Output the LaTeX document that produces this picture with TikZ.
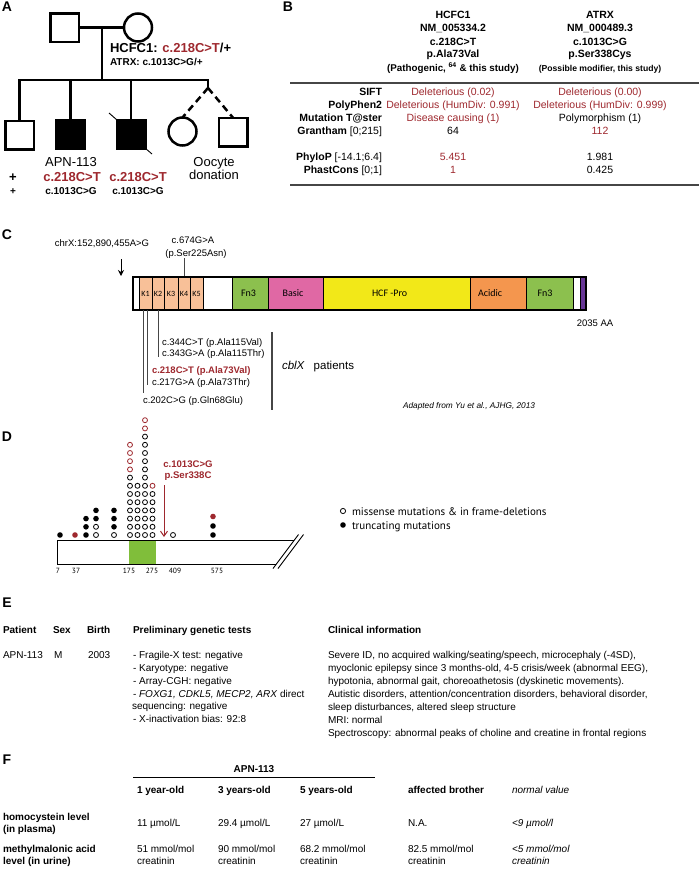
\documentclass[tikz,border=0pt]{standalone}
\usepackage{fontspec}
\setmainfont{Liberation Sans}
\newfontfamily\calfont{Carlito}
\newfontfamily\myrfont{PT Sans}
\usetikzlibrary{arrows.meta}
\definecolor{dred}{RGB}{158,40,46}
\definecolor{kpeach}{RGB}{248,192,152}
\definecolor{fngreen}{RGB}{140,192,78}
\definecolor{bpink}{RGB}{224,104,164}
\definecolor{hyellow}{RGB}{242,232,24}
\definecolor{aorange}{RGB}{244,150,78}
\definecolor{cpurple}{RGB}{104,54,150}
\definecolor{dgreen}{RGB}{128,190,58}
\definecolor{rulegray}{RGB}{70,70,70}
\definecolor{tickgray}{RGB}{70,70,70}
\newcommand{\fsz}[1]{\fontsize{#1pt}{#1pt}\selectfont}
\begin{document}
\begin{tikzpicture}[x=1pt,y=-1pt,
  every node/.style={inner sep=0pt,outer sep=0pt},
  panel/.style={font=\bfseries\fsz{14}},
  ped/.style={line width=2.5pt},
  pedd/.style={line width=2.5pt,dash pattern=on 7pt off 4.5pt},
  sqp/.style={draw,line width=2.5pt,rectangle,minimum size=28.5pt},
  affsq/.style={sqp,fill=black},
  cip/.style={draw,line width=2.5pt,circle,minimum size=28pt},
  tA/.style={anchor=base,font=\fsz{13}},
  tAb/.style={anchor=base,font=\bfseries\fsz{13}},
  tAs/.style={anchor=base,font=\bfseries\fsz{10}},
  bh/.style={anchor=base,font=\bfseries\fsz{10.5}},
  bnote/.style={anchor=base,font=\bfseries\fsz{8.6}},
  bl/.style={anchor=base east,font=\fsz{10.5}},
  bv/.style={anchor=base,font=\fsz{10.5}},
  brule/.style={line width=1.8pt,draw=rulegray},
  ct/.style={anchor=base,font=\fsz{9.5}},
  ctl/.style={anchor=base west,font=\fsz{9.5}},
  dom/.style={font=\calfont\fsz{10}},
  kdom/.style={font=\calfont\fsz{8}},
  tickln/.style={draw=tickgray,line width=0.8pt},
  dnum/.style={anchor=base,font=\myrfont\fsz{7.5}},
  dleg/.style={anchor=base west,font=\myrfont\fsz{11}},
  dopen/.style={draw=black,line width=0.8pt,fill=white},
  dopenr/.style={draw=dred,line width=0.8pt,fill=white},
  dfill/.style={fill=black},
  dfillr/.style={fill=dred},
  et/.style={anchor=base west,font=\fsz{10}},
  etb/.style={anchor=base west,font=\bfseries\fsz{10}},
  eti/.style={anchor=base west,font=\itshape\fsz{10}}
]
\useasboundingbox (0,0) rectangle (699,870);

% ================= Panel A =================
\node[panel] (lA) at (7,7) {A};
\node[sqp] (fa) at (64.5,27.5) {};
\node[cip] (mo) at (138,27.5) {};
\draw[ped] (fa.east) -- (mo.west);
\coordinate (mj) at (102,27.5);
\coordinate (sj) at (102,80);
\draw[ped] (mj) -- (sj);
\node[sqp] (c1) at (19.5,135) {};
\node[affsq] (c2) at (70.5,134.5) {};
\node[affsq] (c3) at (131,134) {};
\node[cip] (c4) at (182.5,131.5) {};
\node[sqp] (c5) at (233,132) {};
\coordinate (sr) at (208,80);
\coordinate (dj) at (208,88);
\draw[ped] (c1.north) |- (sr) -- (dj);
\draw[ped] (c2.north) -- (c2.north |- sj);
\draw[ped] (c3.north) -- (c3.north |- sj);
\draw[pedd] (dj) -- (c4.north);
\draw[pedd] (dj) -- (c5.north);
\draw[line width=0.9pt] (109,113) -- (117,120);
\draw[line width=0.9pt] (145,148) -- (152,154);

\node[tAb,anchor=base west] (hc) at (110,52.7) {HCFC1: \textcolor{dred}{c.218C>T}/+};
\node[tAs,anchor=base west] (atx) at (110,65.6) {ATRX: c.1013C>G/+};
\node[tA] (apn) at (71,166.7) {APN-113};
\node[tAb,text=dred] (m2) at (72,181.7) {c.218C>T};
\node[tAs] (a2) at (71,194.6) {c.1013C>G};
\node[tAb,text=dred] (m3) at (138,181.7) {c.218C>T};
\node[tAs] (a3) at (138,194.6) {c.1013C>G};
\node[tAb] (p1) at (13,181.7) {+};
\node[tAs] (p2) at (13,194.6) {+};
\node[tA] (oo) at (214,166.7) {Oocyte};
\node[tA] (don) at (214,179.7) {donation};

% ================= Panel B =================
\node[panel] (lB) at (288,7) {B};
\node[bh] (h1a) at (453,18.8) {HCFC1};
\node[bh] (h1b) at (453,31.8) {NM\_005334.2};
\node[bh] (h1c) at (453,45.5) {c.218C>T};
\node[bh] (h1d) at (453,57.8) {p.Ala73Val};
\node[bh,font=\bfseries\fsz{9.8}] (h1e) at (453,71.3) {(Pathogenic, \textsuperscript{64} \& this study)};
\node[bh] (h2a) at (600,18.8) {ATRX};
\node[bh] (h2b) at (600,31.8) {NM\_000489.3};
\node[bh] (h2c) at (600,45.5) {c.1013C>G};
\node[bh] (h2d) at (600,57.8) {p.Ser338Cys};
\node[bnote] (h2e) at (600,71.1) {(Possible modifier, this study)};
\draw[brule] (290,83) -- (699,83);
\draw[brule] (290,185) -- (699,185);

\node[bl] (r1) at (382,95.8) {\bfseries SIFT};
\node[bl] (r2) at (382,108.8) {\bfseries PolyPhen2};
\node[bl] (r3) at (382,121.8) {\bfseries Mutation T@ster};
\node[bl] (r4) at (382,134.8) {\textbf{Grantham} [0;215]};
\node[bl] (r5) at (382,160.8) {\textbf{PhyloP} [-14.1;6.4]};
\node[bl] (r6) at (382,173.8) {\textbf{PhastCons} [0;1]};

\node[bv,text=dred] (v11) at (453,95.8) {Deleterious (0.02)};
\node[bv,text=dred] (v12) at (453,108.8) {Deleterious (HumDiv: 0.991)};
\node[bv,text=dred] (v13) at (453,121.8) {Disease causing (1)};
\node[bv] (v14) at (453,134.8) {64};
\node[bv,text=dred] (v15) at (453,160.8) {5.451};
\node[bv,text=dred] (v16) at (453,173.8) {1};
\node[bv,text=dred] (v21) at (600,95.8) {Deleterious (0.00)};
\node[bv,text=dred] (v22) at (600,108.8) {Deleterious (HumDiv: 0.999)};
\node[bv] (v23) at (600,121.8) {Polymorphism (1)};
\node[bv,text=dred] (v24) at (600,134.8) {112};
\node[bv] (v25) at (600,160.8) {1.981};
\node[bv] (v26) at (600,173.8) {0.425};

% ================= Panel C =================
\node[panel] (lC) at (7,235) {C};
\node[ct] (chr) at (102,246.4) {chrX:152,890,455A>G};
\node[ct] (c674) at (193,243.4) {c.674G>A};
\node[ct] (c674p) at (196,256.6) {(p.Ser225Asn)};
\coordinate (arT) at (121,259);
\coordinate (arB) at (121,276);
\draw[line width=1pt,-{Stealth[length=6pt,width=6pt]}] (arT) -- (arB);
\draw[tickln] (184,258) -- (184,277);

% domains
\fill[white] (133,277) rectangle (139,310);
\foreach \a/\b in {139/152,152/164,164/178,178/190,190/203}
  \fill[kpeach] (\a,277) rectangle (\b,310);
\fill[white] (203,277) rectangle (232,310);
\fill[fngreen] (232,277) rectangle (268,310);
\fill[bpink] (268,277) rectangle (323,310);
\fill[hyellow] (323,277) rectangle (470,310);
\fill[aorange] (470,277) rectangle (526,310);
\fill[fngreen] (526,277) rectangle (573,310);
\fill[white] (573,277) rectangle (580,310);
\fill[cpurple] (580,277) rectangle (586,310);
\foreach \a in {139,152,164,178,190,203,232,268,323,470,526,573,580}
  \draw[line width=0.8pt] (\a,277) -- (\a,310);
\draw[line width=1.8pt] (133,277) rectangle (586,310);

\node[kdom] (k1) at (145.5,293.5) {K1};
\node[kdom] (k2) at (158,293.5) {K2};
\node[kdom] (k3) at (171,293.5) {K3};
\node[kdom] (k4) at (184,293.5) {K4};
\node[kdom] (k5) at (196.5,293.5) {K5};
\node[dom] (fn1) at (248.5,293.5) {Fn3};
\node[dom] (bas) at (293,293.5) {Basic};
\node[dom,anchor=west] (hcf) at (372,293.5) {HCF -Pro};
\node[dom,anchor=west] (aci) at (478,293.5) {Acidic};
\node[dom] (fn2) at (545,293.5) {Fn3};
\node[ct] (aa) at (595,326.4) {2035 AA};

\draw[tickln] (143.5,310) -- (143.5,393);
\draw[tickln] (147.5,310) -- (147.5,385);
\draw[tickln] (158.5,310) -- (158.5,357);
\node[ctl] (m344) at (162,345.4) {c.344C>T (p.Ala115Val)};
\node[ctl] (m343) at (162,356.6) {c.343G>A (p.Ala115Thr)};
\node[ctl,font=\bfseries\fsz{9.5},text=dred] (m218) at (152,373.4) {c.218C>T (p.Ala73Val)};
\node[ctl] (m217) at (152,385.4) {c.217G>A (p.Ala73Thr)};
\node[ctl] (m202) at (143,403.4) {c.202C>G (p.Gln68Glu)};
\draw[line width=1.2pt,draw=tickgray] (272,332) -- (272,410);
\node[anchor=base west,font=\fsz{11.5}] (cbl) at (282,369) {\textit{cblX}\hspace{9pt}patients};
\node[anchor=base west,font=\itshape\fsz{8.3}] (adp) at (403,408) {Adapted from Yu et al., AJHG, 2013};

% ================= Panel D =================
\node[panel] (lD) at (7,437) {D};
\fill[dgreen] (129,540) rectangle (156,564);
\draw[line width=0.9pt] (294,540) -- (57,540) -- (57,564) -- (276,564);
\draw[line width=0.9pt] (273,568.5) -- (298.5,534.5);
\draw[line width=0.9pt] (278,568.5) -- (303.5,534.5);

% dots
\fill[dfill] (60,535) circle (2.8);
\fill[dfillr] (75,535) circle (2.8);
\foreach \i in {0,1,2} \fill[dfill] (86,{535-8.2*\i}) circle (2.8);
\foreach \i in {0,1} \draw[dopen] (96,{535-8.2*\i}) circle (2.5);
\foreach \i in {2,3} \fill[dfill] (96,{535-8.2*\i}) circle (2.8);
\draw[dopen] (114,535) circle (2.5);
\foreach \i in {1,2,3} \fill[dfill] (114,{535-8.2*\i}) circle (2.8);
\foreach \i in {0,...,7} \draw[dopen] (130,{535-8.2*\i}) circle (2.5);
\foreach \i in {8,...,11} \draw[dopenr] (130,{535-8.2*\i}) circle (2.5);
\foreach \i in {0,...,6} \draw[dopen] (137.5,{535-8.2*\i}) circle (2.5);
\foreach \i in {0,...,12} \draw[dopen] (145,{535-8.2*\i}) circle (2.5);
\foreach \i in {13,14} \draw[dopenr] (145,{535-8.2*\i}) circle (2.5);
\foreach \i in {0,...,5} \draw[dopen] (152.5,{535-8.2*\i}) circle (2.5);
\draw[dopenr] (152.5,{535-8.2*6}) circle (2.5);
\draw[dopen] (173,535) circle (2.5);
\fill[dfill] (213,535) circle (2.8);
\fill[dfill] (213,526) circle (2.8);
\fill[dfillr] (213,516.5) circle (2.8);

\coordinate (raT) at (164,485);
\coordinate (raB) at (164,537);
\draw[dred,line width=1pt,-{Straight Barb[length=5pt,width=7pt]}] (raT) -- (raB);
\node[anchor=base,font=\bfseries\fsz{9.6},text=dred] (dm1) at (188,467.5) {c.1013C>G};
\node[anchor=base,font=\bfseries\fsz{9.6},text=dred] (dm2) at (188,478.8) {p.Ser338C};

\node[dnum] (n7) at (58,573) {7};
\node[dnum] (n37) at (76,573) {37};
\node[dnum] (n175) at (129,573) {175};
\node[dnum] (n275) at (152,573) {275};
\node[dnum] (n409) at (175,573) {409};
\node[dnum] (n575) at (217,573) {575};

\draw[dopen] (343,511) circle (2.6);
\fill[dfill] (343,525) circle (2.8);
\node[dleg] (lg1) at (352,515) {missense mutations \& in frame-deletions};
\node[dleg] (lg2) at (352,529) {truncating mutations};

% ================= Panel E =================
\node[panel] (lE) at (7,603) {E};
\node[etb] (eh1) at (3,633.6) {Patient};
\node[etb] (eh2) at (53,633.6) {Sex};
\node[etb] (eh3) at (87,633.6) {Birth};
\node[etb] (eh4) at (133,633.6) {Preliminary genetic tests};
\node[etb] (eh5) at (328,633.6) {Clinical information};
\node[et] (ep) at (3,658.6) {APN-113};
\node[et] (es) at (54,658.6) {M};
\node[et] (eb) at (88,658.6) {2003};
\node[et] (g1) at (133,658.6) {- Fragile-X test: negative};
\node[et] (g2) at (133,671.4) {- Karyotype: negative};
\node[et] (g3) at (133,684.2) {- Array-CGH: negative};
\node[et] (g4) at (133,697) {- \textit{FOXG1, CDKL5, MECP2, ARX} direct};
\node[et] (g5) at (132,709.8) {sequencing: negative};
\node[et] (g6) at (133,722.6) {- X-inactivation bias: 92:8};
\node[et] (k1l) at (328,658.6) {Severe ID, no acquired walking/seating/speech, microcephaly (-4SD),};
\node[et] (k2l) at (328,671.6) {myoclonic epilepsy since 3 months-old, 4-5 crisis/week (abnormal EEG),};
\node[et] (k3l) at (328,684.6) {hypotonia, abnormal gait, choreoathetosis (dyskinetic movements).};
\node[et] (k4l) at (328,697.6) {Autistic disorders, attention/concentration disorders, behavioral disorder,};
\node[et] (k5l) at (328,710.6) {sleep disturbances, altered sleep structure};
\node[et] (k6l) at (328,723.6) {MRI: normal};
\node[et] (k7l) at (328,736.6) {Spectroscopy: abnormal peaks of choline and creatine in frontal regions};

% ================= Panel F =================
\node[panel] (lF) at (7,760) {F};
\node[anchor=base,font=\bfseries\fsz{10}] (fapn) at (254,772.6) {APN-113};
\coordinate (fl1) at (133,777.5);
\coordinate (fl2) at (375,777.5);
\draw[line width=0.9pt] (fl1) -- (fl2);
\node[etb] (fc1) at (137,793.6) {1 year-old};
\node[etb] (fc2) at (218,793.6) {3 years-old};
\node[etb] (fc3) at (300,793.6) {5 years-old};
\node[etb] (fc4) at (408,793.6) {affected brother};
\node[eti] (fc5) at (512,793.6) {normal value};
\node[etb] (fr1a) at (3,820.6) {homocystein level};
\node[etb] (fr1b) at (3,832.6) {(in plasma)};
\node[etb] (fr2a) at (3,852.6) {methylmalonic acid};
\node[etb] (fr2b) at (3,864) {level (in urine)};
\node[et] (f11) at (137,826.6) {11 µmol/L};
\node[et] (f12) at (218,826.6) {29.4 µmol/L};
\node[et] (f13) at (300,826.6) {27 µmol/L};
\node[et] (f14) at (408,826.6) {N.A.};
\node[eti] (f15) at (512,826.6) {<9 µmol/l};
\node[et] (f21a) at (137,852.6) {51 mmol/mol};
\node[et] (f21b) at (137,864) {creatinin};
\node[et] (f22a) at (218,852.6) {90 mmol/mol};
\node[et] (f22b) at (218,864) {creatinin};
\node[et] (f23a) at (300,852.6) {68.2 mmol/mol};
\node[et] (f23b) at (300,864) {creatinin};
\node[et] (f24a) at (408,852.6) {82.5 mmol/mol};
\node[et] (f24b) at (408,864) {creatinin};
\node[eti] (f25a) at (512,852.6) {<5 mmol/mol};
\node[eti] (f25b) at (512,864) {creatinin};
\end{tikzpicture}
\end{document}
